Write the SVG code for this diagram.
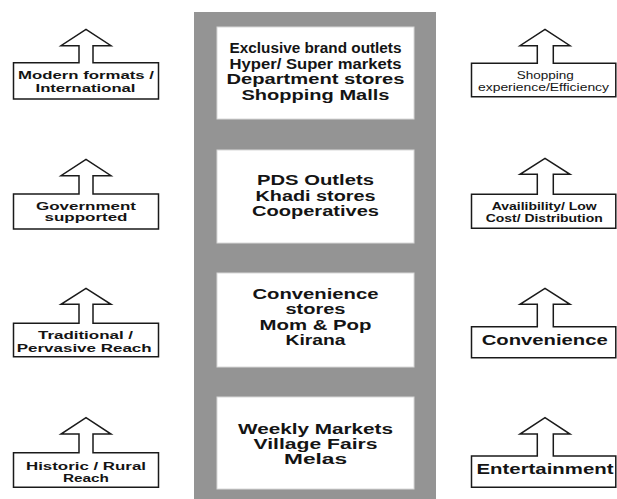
<svg xmlns="http://www.w3.org/2000/svg" width="617" height="499" viewBox="0 0 617 499">
<style>
.col{fill:#949494}
.box{fill:#fff;stroke:#d8d8d8;stroke-width:1}
.arr{fill:#fff;stroke:#1a1a1a;stroke-width:1.5;stroke-linejoin:miter}
text{font-family:"Liberation Sans",Arial,sans-serif;font-weight:bold;fill:#141414;text-anchor:middle}
.c{font-size:14.5px}
.s{font-size:11px}
.m{font-size:14px}
.n{font-weight:normal}
</style>
<rect width="617" height="499" fill="#fff"/>
<rect class="col" x="194" y="12" width="242" height="487"/>

<g id="center1">
<rect class="box" x="217" y="27" width="197" height="92"/>
<text class="c" x="315.5" y="53" textLength="172" lengthAdjust="spacingAndGlyphs">Exclusive brand outlets</text>
<text class="c" x="315.5" y="68.5" textLength="172" lengthAdjust="spacingAndGlyphs">Hyper/ Super markets</text>
<text class="c" x="315.5" y="84" textLength="178" lengthAdjust="spacingAndGlyphs">Department stores</text>
<text class="c" x="315.5" y="99.5" textLength="148" lengthAdjust="spacingAndGlyphs">Shopping Malls</text>
</g>
<g id="center2">
<rect class="box" x="217" y="150" width="197" height="93"/>
<text class="c" x="315.5" y="185" font-size="15.5" textLength="117" lengthAdjust="spacingAndGlyphs">PDS Outlets</text>
<text class="c" x="315.5" y="200.5" font-size="15.5" textLength="120" lengthAdjust="spacingAndGlyphs">Khadi stores</text>
<text class="c" x="315.5" y="215.5" font-size="15.5" textLength="127" lengthAdjust="spacingAndGlyphs">Cooperatives</text>
</g>
<g id="center3">
<rect class="box" x="217" y="273" width="197" height="94"/>
<text class="c" x="315.5" y="298.5" textLength="126" lengthAdjust="spacingAndGlyphs">Convenience</text>
<text class="c" x="315.5" y="314" textLength="60" lengthAdjust="spacingAndGlyphs">stores</text>
<text class="c" x="315.5" y="329.5" textLength="112" lengthAdjust="spacingAndGlyphs">Mom &amp; Pop</text>
<text class="c" x="315.5" y="345" textLength="60" lengthAdjust="spacingAndGlyphs">Kirana</text>
</g>
<g id="center4">
<rect class="box" x="217" y="397" width="197" height="92"/>
<text class="c" x="315.5" y="433.5" textLength="155" lengthAdjust="spacingAndGlyphs">Weekly Markets</text>
<text class="c" x="315.5" y="448.5" textLength="124" lengthAdjust="spacingAndGlyphs">Village Fairs</text>
<text class="c" x="315.5" y="463.5" textLength="63" lengthAdjust="spacingAndGlyphs">Melas</text>
</g>

<g id="left1">
<path class="arr" d="M13.5,99 V62.7 H79 V45.7 H61 L86,29.3 L111,45.7 H93 V62.7 H158.5 V99 Z"/>
<text class="s" x="86" y="79" textLength="136" lengthAdjust="spacingAndGlyphs">Modern formats /</text>
<text class="s" x="85.5" y="91.7" textLength="100" lengthAdjust="spacingAndGlyphs">International</text>
</g>
<g id="left2">
<path class="arr" d="M13.5,229 V194 H79 V175.7 H61 L86,159.3 L111,175.7 H93 V194 H158.5 V229 Z"/>
<text class="s" x="86" y="210" textLength="100" lengthAdjust="spacingAndGlyphs">Government</text>
<text class="s" x="86" y="221" textLength="83" lengthAdjust="spacingAndGlyphs">supported</text>
</g>
<g id="left3">
<path class="arr" d="M13.5,356.7 V323.3 H79 V304.3 H61 L86,288.3 L111,304.3 H93 V323.3 H158.5 V356.7 Z"/>
<text class="s" x="85.5" y="339.3" textLength="95" lengthAdjust="spacingAndGlyphs">Traditional /</text>
<text class="s" x="84.2" y="351.7" textLength="135" lengthAdjust="spacingAndGlyphs">Pervasive Reach</text>
</g>
<g id="left4">
<path class="arr" d="M13.5,487.3 V452.7 H79 V434 H61 L86,417.7 L111,434 H93 V452.7 H158.5 V487.3 Z"/>
<text class="s" x="86" y="470" textLength="120" lengthAdjust="spacingAndGlyphs">Historic / Rural</text>
<text class="s" x="86" y="481.5" textLength="46" lengthAdjust="spacingAndGlyphs">Reach</text>
</g>

<g id="right1">
<path class="arr" d="M471.5,96.7 V63.3 H537.3 V45.7 H520 L545,29.3 L570,45.7 H553.3 V63.3 H615.8 V96.7 Z"/>
<text class="s n" x="545.3" y="79.3" font-size="11.5" textLength="57" lengthAdjust="spacingAndGlyphs">Shopping</text>
<text class="s n" x="543.5" y="90.5" font-size="11.5" textLength="131" lengthAdjust="spacingAndGlyphs">experience/Efficiency</text>
</g>
<g id="right2">
<path class="arr" d="M471.5,228.3 V194.3 H537.3 V174.3 H520 L545,158.3 L570,174.3 H553.3 V194.3 H615.8 V228.3 Z"/>
<text class="s" x="544.2" y="210" textLength="105" lengthAdjust="spacingAndGlyphs">Availibility/ Low</text>
<text class="s" x="544.2" y="221.7" textLength="117" lengthAdjust="spacingAndGlyphs">Cost/ Distribution</text>
</g>
<g id="right3">
<path class="arr" d="M471.5,357.7 V326.7 H537.3 V304.3 H520 L545,288.3 L570,304.3 H553.3 V326.7 H615.8 V357.7 Z"/>
<text class="m" x="544.7" y="345" textLength="126" lengthAdjust="spacingAndGlyphs">Convenience</text>
</g>
<g id="right4">
<path class="arr" d="M471.5,487.3 V456 H537.3 V434 H520 L545,417.7 L570,434 H553.3 V456 H615.8 V487.3 Z"/>
<text class="m" x="545" y="474.3" textLength="137" lengthAdjust="spacingAndGlyphs">Entertainment</text>
</g>
<g id="connectors"></g>
</svg>
